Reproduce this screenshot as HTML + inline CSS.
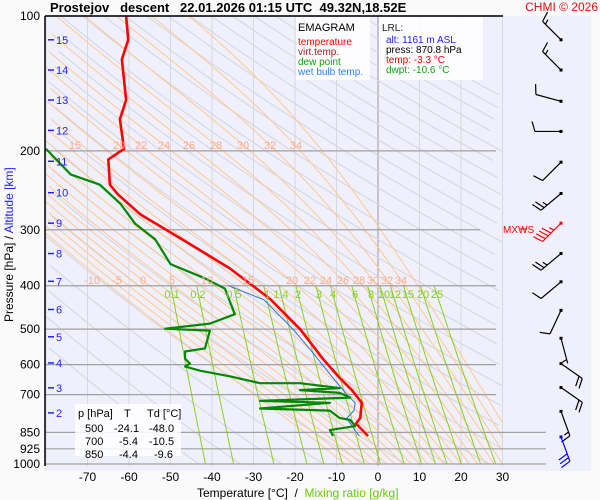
<!DOCTYPE html>
<html><head><meta charset="utf-8"><style>
body{margin:0;background:#fafafa;}
svg{display:block;font-family:"Liberation Sans",sans-serif;}
</style></head><body>
<svg id="c" width="600" height="500" viewBox="0 0 600 500">
<rect x="0" y="0" width="600" height="500" fill="#fafafa"/>
<rect x="45" y="16" width="546" height="455" fill="#f0f0fc"/>
<g id="grid"></g><g id="series"></g><g id="barbs"></g><g id="labels"></g>
</svg>
<script>
// ---- data ----
const presT=[100,113,125,154,170,198,209,238,250,277,323,366,428,500,582,643,684,730,790,812,866];
const tempT=[-60.7,-60.2,-61.7,-60.7,-62.2,-61.2,-65,-64.6,-62.7,-57.3,-45.3,-35.7,-26,-18.8,-13.3,-9.2,-6.3,-3.9,-4.3,-5.3,-2.4];
const presD=[198,226,238,263,291,315,358,385,406,463,486,499,504,552,561,582,597,606,619,637,660,660,677,684,694,711,723,730,752,760,790,797,823,840,866];
const dewD=[-80,-74,-67,-62,-58.5,-53.7,-50,-41.7,-36.9,-34.5,-40.5,-51.3,-40.5,-41.7,-46.5,-46.5,-45.3,-46.5,-42.9,-35.7,-28.4,-18.8,-9.2,-18.8,-9.2,-6.7,-28.4,-11.6,-28.4,-11.6,-9.2,-6.7,-5.5,-11.6,-10.8];
const presW=[400,430,500,560,640,700,730,760,790,830,866];
const wetW=[-36,-27.5,-20.5,-16,-11,-7.5,-5.5,-5.8,-7.5,-6,-4.5];
const isoTicks=[-70,-60,-50,-40,-30,-20,-10,0,10,20,30];
const presTicks=[100,200,300,400,500,600,700,850,925,1000];
const kmTicks=[15,14,13,12,11,10,9,8,7,6,5,4,3,2];
const kmPres=[113,132,154,180,211,248,290,339,391,452,520,595,676,769];
const mixRatios=[0.1,0.2,0.5,1,1.4,2,3,4,6,8,10,12,15,20,25];
const barbPres=[113,132,155,181,212,249,290,339,392,454,524,597,675,763,870];
const barbDir=[315,315,285,270,225,230,225,230,230,205,165,125,125,160,160];
const barbSpd=[15,15,10,10,10,25,45,25,10,10,5,20,20,15,30];

const NS='http://www.w3.org/2000/svg';
function X(t){return 378+t*4.15;}
function Y(p){return 16+Math.log10(p/100)*448;}
function mk(parent,tag,attrs){const e=document.createElementNS(NS,tag);for(const k in attrs)e.setAttribute(k,attrs[k]);document.getElementById(parent).appendChild(e);return e;}
function txt(parent,x,y,s,attrs){const e=mk(parent,'text',Object.assign({x:x,y:y},attrs||{}));e.textContent=s;return e;}
function clipPts(pts){return pts.filter(q=>q[0]>=45&&q[0]<=503&&q[1]>=16&&q[1]<=466).map(q=>q[0].toFixed(1)+','+q[1].toFixed(1)).join(' ');}

// isotherms
for(let t=-80;t<=30;t+=10){const x=X(t);if(x<45)continue;
 const l=mk('grid','line',{x1:x,y1:16,x2:x,y2:466,stroke:t===0?'#999':'#d8d8e0','stroke-width':1});
 
 }
// dry adiabats
for(let th=230;th<=520;th+=10){const pts=[];for(let p=100;p<=1000;p+=10){pts.push([X(th*Math.pow(p/1000,0.286)-273.15),Y(p)]);}
 const l=mk('grid','polyline',{points:clipPts(pts),fill:'none',stroke:'#d4d4dc','stroke-width':1});
 
 }
// moist adiabats
function es(t){return 6.112*Math.exp(17.67*t/(t+243.5));}
for(let tw=-8;tw<=36;tw+=2){let T=tw+273.15;const pts=[];
 for(let p=1000;p>=100;p-=5){pts.push([X(T-273.15),Y(p)]);
  const rs=0.622*es(T-273.15)/(p-es(T-273.15));const Lv=2.5e6,Rd=287,cp=1005;
  const dTdp=(Rd*T+Lv*rs)/(p*(cp+Lv*Lv*rs*0.622/(Rd*T*T)));T-=dTdp*5;}
 const l=mk('grid','polyline',{points:clipPts(pts),fill:'none',stroke:'#ffc890','stroke-width':1});
 
 }
// mixing ratio lines
mixRatios.forEach(w=>{const pts=[];for(let p=400;p<=1000;p+=20){const e=w*p/(622+w);const a=Math.log(e/6.112);pts.push([X(243.5*a/(17.67-a)),Y(p)]);}
 const l=mk('grid','polyline',{points:clipPts(pts),fill:'none',stroke:'#88d020','stroke-width':1});
 
 });
// isobars
presTicks.forEach(p=>{const y=Y(p);const l=mk('grid','line',{x1:45,y1:y,x2:p>=850?546:(p===300?480:496),y2:y,stroke:'#a0a0a0','stroke-width':1.2});
 
 
 const t=txt('labels',40,y+4,String(p),{'font-size':12,'text-anchor':'end',fill:'#000'});
 
 });
isoTicks.forEach(t=>{const e=txt('labels',X(t),481,String(t),{'font-size':12,'text-anchor':'middle',fill:'#000'});
 
 });
kmTicks.forEach((k,i)=>{const y=Y(kmPres[i]);const l=mk('labels','line',{x1:48,y1:y,x2:54,y2:y,stroke:'#22f','stroke-width':1.5});
 
 
 const e=txt('labels',56,y+4,String(k),{'font-size':11,fill:'#22f'});
 
 });
// series
function series(P,V,color,w,name){const pts=P.map((p,i)=>X(V[i]).toFixed(1)+','+Y(p).toFixed(1)).join(' ');
 const l=mk('series','polyline',{points:pts,fill:'none',stroke:color,'stroke-width':w,'stroke-linejoin':'round'});
 
 }
series(presW,wetW,'#2a70f0',1,'wet-bulb-line');
series(presD,dewD,'#008800',2.2,'dew-point-line');
series(presT,tempT,'#ff0000',2.6,'temperature-line');
// wind barbs
barbPres.forEach((p,i)=>{const y=Y(p),x=561;const d=barbDir[i]*Math.PI/180;const dx=Math.sin(d),dy=-Math.cos(d);
 const col=i===6?'#f00':(i===14?'#00f':'#000');const L=26;const ex=x+dx*L,ey=y+dy*L;
 let path='M'+x+','+y+'L'+ex.toFixed(1)+','+ey.toFixed(1);
 const px=-dy,py=dx;let s=barbSpd[i],k=0;
 while(s>=10){const bx=ex-dx*k*4,by=ey-dy*k*4;path+='M'+bx.toFixed(1)+','+by.toFixed(1)+'l'+((px*10+dx*3)).toFixed(1)+','+((py*10+dy*3)).toFixed(1);s-=10;k++;}
 if(s>=5){const bx=ex-dx*(k+ (k?0:1))*4,by=ey-dy*(k+(k?0:1))*4;path+='M'+bx.toFixed(1)+','+by.toFixed(1)+'l'+((px*5+dx*1.5)).toFixed(1)+','+((py*5+dy*1.5)).toFixed(1);}
 const g=mk('barbs','path',{d:path,stroke:col,'stroke-width':1.2,fill:'none'});
 
 
 const dot=mk('barbs','rect',{x:x-1.5,y:y-1.5,width:3,height:3,fill:col});
 
 });
// moist adiabat labels
const ml1=[['15',75],['20',119],['22',141],['24',164],['26',189],['28',216],['30',243],['32',270],['34',296]];
ml1.forEach(a=>{const e=txt('labels',a[1],149,a[0],{'font-size':11,fill:'#ffaa88','text-anchor':'middle'});
 
 });
const ml2=[['-10',92],['-5',117],['0',143],['5',172],['10',207],['15',248],['20',292],['22',310],['24',326],['26',343],['28',359],['30',373],['32',387],['34',401]];
ml2.forEach(a=>{const e=txt('labels',a[1],284,a[0],{'font-size':11,fill:'#ffaa88','text-anchor':'middle'});
 
 });
const mrx=[172,198,234,267,281,298,319,333,355,371,384,395,408,423,437];
mixRatios.forEach((w,i)=>{const e=txt('labels',mrx[i],298,String(w),{'font-size':11,fill:'#88cc22','text-anchor':'middle'});
 
 });
</script>
<svg style="position:absolute;left:0;top:0" width="600" height="500">
<g font-family="Liberation Sans, sans-serif">
<line x1="45" y1="16" x2="503" y2="16" stroke="#000" stroke-width="1.5"/>
<line x1="45" y1="16" x2="45" y2="466" stroke="#000" stroke-width="1.5"/>
<text x="50" y="12" font-size="13" font-weight="bold" xml:space="preserve">Prostejov   descent   22.01.2026 01:15 UTC  49.32N,18.52E</text>
<text x="598" y="11" font-size="12" fill="#e01010" text-anchor="end">CHMI © 2026</text>
<rect x="296" y="17" width="74" height="63" fill="#fff" opacity="0.85"/>
<text x="298" y="31" font-size="11">EMAGRAM</text>
<text x="298" y="45" font-size="10" fill="#f00">temperature</text>
<text x="298" y="55" font-size="10" fill="#a02020">virt.temp.</text>
<text x="298" y="65" font-size="10" fill="#10a010">dew point</text>
<text x="298" y="75" font-size="10" fill="#3080f0">wet bulb temp.</text>
<rect x="379" y="17" width="104" height="63" fill="#fff" opacity="0.85"/>
<text x="382" y="31" font-size="10" fill="#222">LRL:</text>
<text x="386" y="43" font-size="10" fill="#2020ff">alt: 1161 m ASL</text>
<text x="386" y="53" font-size="10" fill="#000">press: 870.8 hPa</text>
<text x="386" y="63" font-size="10" fill="#f00">temp: -3.3 °C</text>
<text x="386" y="73" font-size="10" fill="#10a010">dwpt: -10.6 °C</text>
<rect x="75" y="404" width="106" height="52" fill="#fff" opacity="0.85"/>
<g font-size="11">
<text x="78" y="417">p [hPa]</text><text x="124" y="417">T</text><text x="147" y="417">Td [°C]</text>
<text x="85" y="432">500</text><text x="114" y="432">-24.1</text><text x="149" y="432">-48.0</text>
<text x="85" y="445">700</text><text x="119" y="445">-5.4</text><text x="149" y="445">-10.5</text>
<text x="85" y="458">850</text><text x="119" y="458">-4.4</text><text x="154" y="458">-9.6</text>
</g>
<text x="503" y="233" font-size="10" fill="#f00">MXWS</text>
<line x1="520" y1="229" x2="527" y2="229" stroke="#f00"/>
<text x="197" y="497" font-size="12" xml:space="preserve">Temperature [°C]  /  <tspan fill="#66cc00">Mixing ratio [g/kg]</tspan></text>
<text transform="translate(13,322) rotate(-90)" font-size="12">Pressure [hPa]  /  <tspan fill="#2222ff">Altitude [km]</tspan></text>
</g></svg>
</body></html>
